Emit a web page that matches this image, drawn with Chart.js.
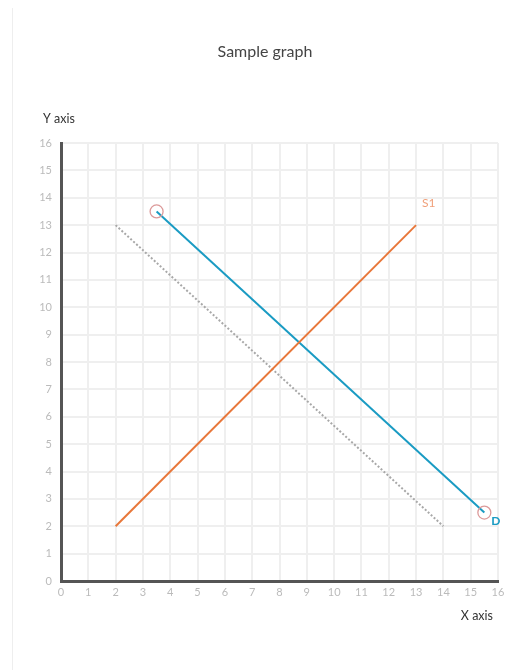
<!DOCTYPE html>
<html>
<head>
<meta charset="utf-8">
<script src="https://cdn.jsdelivr.net/npm/chart.js@4/dist/chart.umd.min.js"></script>
<style>
html,body{margin:0;padding:0;background:#fff;}
#wrap{position:relative;width:512px;height:670px;}
#edge{position:absolute;left:12px;top:8px;width:1px;height:662px;background:#eeeeee;}
canvas{position:absolute;left:0;top:0;}
</style>
</head>
<body>
<div id="wrap"><div id="edge"></div><canvas id="c" width="512" height="670"></canvas></div>
<script>
const chartTitle = "Sample graph";
const xAxisTitle = "X axis";
const yAxisTitle = "Y axis";
const tickValues = [0,1,2,3,4,5,6,7,8,9,10,11,12,13,14,15,16];

const seriesNames = ["S1", "D", ""];
const s1X = [2, 13];
const s1Y = [2, 13];
const dX = [3.5, 15.5];
const dY = [13.5, 2.5];
const refX = [2, 14];
const refY = [13, 2];

function pts(xs, ys){ return xs.map((x,i)=>({x:x, y:ys[i]})); }

const labelPlugin = {
  id: 'labels',
  afterDraw(chart){
    const ctx = chart.ctx;
    const xs = chart.scales.x, ys = chart.scales.y;
    ctx.save();
    ctx.fillStyle = '#444';
    ctx.font = '16px Lato';
    ctx.textAlign = 'center';
    ctx.textBaseline = 'middle';
    ctx.fillText(chartTitle, 265, 52);
    ctx.fillStyle = '#333';
    ctx.font = '12.5px Lato';
    ctx.textAlign = 'left';
    ctx.fillText(yAxisTitle, 43, 119);
    ctx.textAlign = 'right';
    ctx.fillText(xAxisTitle, 493, 616);
    // series labels
    ctx.textAlign = 'left';
    ctx.font = '12px Lato';
    ctx.fillStyle = '#f0a07a';
    ctx.fillText(seriesNames[0], xs.getPixelForValue(s1X[1]) + 6, ys.getPixelForValue(s1Y[1]) - 22);
    ctx.font = 'bold 12px Lato';
    ctx.fillStyle = '#1a9bc3';
    ctx.fillText(seriesNames[1], xs.getPixelForValue(dX[1]) + 7, ys.getPixelForValue(dY[1]) + 9);
    ctx.restore();
  }
};

new Chart(document.getElementById('c'), {
  type: 'scatter',
  data: {
    datasets: [
      { label: seriesNames[0], data: pts(s1X, s1Y), showLine: true, borderColor: '#e8773a', borderWidth: 2, pointRadius: 0, fill: false },
      { label: seriesNames[1], data: pts(dX, dY), showLine: true, borderColor: '#1a9bc3', borderWidth: 2,
        pointRadius: 6.5, pointBorderColor: '#dc9a9a', pointBackgroundColor: 'rgba(0,0,0,0)', pointBorderWidth: 1.3, fill: false },
      { label: seriesNames[2], data: pts(refX, refY), showLine: true, borderColor: '#a8a8a8', borderWidth: 2, borderDash: [2,2], pointRadius: 0, fill: false }
    ]
  },
  options: {
    responsive: false,
    animation: false,
    layout: { padding: { left: 13, right: 14, top: 143, bottom: 69 } },
    plugins: { legend: { display: false }, title: { display: false }, tooltip: { enabled: false } },
    scales: {
      x: {
        type: 'linear', min: 0, max: 16,
        afterBuildTicks(s){ s.ticks = tickValues.map(v=>({value:v})); },
        afterFit(s){ s.height = 20; },
        grid: { color: '#efefef', lineWidth: 2, drawTicks: false },
        border: { color: '#555555', width: 3 },
        ticks: { color: '#bbbbbb', font: { family: 'Lato', size: 11 }, padding: 5, maxRotation: 0, autoSkip: false }
      },
      y: {
        type: 'linear', min: 0, max: 16,
        afterBuildTicks(s){ s.ticks = tickValues.map(v=>({value:v})); },
        afterFit(s){ s.width = 48; },
        grid: { color: '#efefef', lineWidth: 2, drawTicks: false },
        border: { color: '#555555', width: 3 },
        ticks: { color: '#bbbbbb', font: { family: 'Lato', size: 11 }, padding: 9, autoSkip: false }
      }
    }
  },
  plugins: [labelPlugin]
});
</script>
</body>
</html>
